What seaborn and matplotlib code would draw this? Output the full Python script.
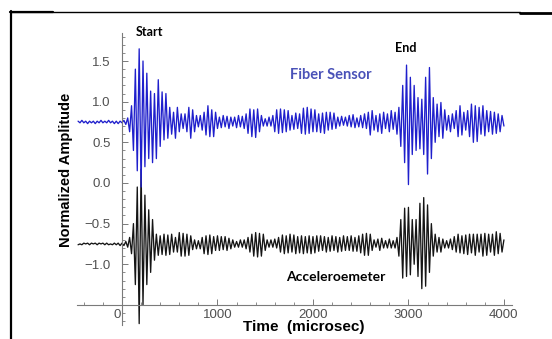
import numpy as np
import pandas as pd
import matplotlib
matplotlib.use("Agg")
import matplotlib.pyplot as plt
from matplotlib.ticker import MultipleLocator, FixedLocator
from matplotlib.lines import Line2D
from matplotlib.transforms import ScaledTranslation
import seaborn as sns

# ---- data ----
t_start = -460          # microsec, first sample
half_period = 20        # microsec between successive extremes
fiber_baseline = 0.75
accel_baseline = -0.75

# half-cycle amplitudes (hundredths of normalized amplitude), sign alternates
fiber_amp = [
    1, 1, 2, 1, 1, 2, 1, 1, 1, 2, 1, 1, 2, 1, 1, 1, 2, 1, 1, 2, 1, 2, 1, 1, 2, 3,
    5, 12, 20, 35, 65,
    60, 90, 80, 75, 55,
    60, 45, 38, 50, 35,
    45, 52, 30, 37, 22,
    35, 20, 18, 15, 12,
    20, 18, 12, 10, 8,
    10, 12, 18, 20, 15,
    12, 8, 6, 8, 10,
    12, 16, 20, 18, 15,
    18, 12, 8, 6, 7,
    8, 6, 7, 8, 6,
    5, 6, 7, 8, 6,
    7, 8, 10, 14, 16,
    18, 15, 19, 16, 12,
    8, 5, 4, 5, 6,
    5, 8, 12, 15, 14,
    16, 13, 15, 12, 14,
    10, 8, 9, 11, 8,
    10, 14, 17, 15, 18,
    14, 16, 12, 15, 12,
    10, 13, 11, 14, 12,
    10, 12, 9, 11, 8,
    6, 5, 7, 4, 6,
    5, 8, 6, 9, 7,
    5, 6, 8, 7, 10,
    8, 12, 16, 14, 10,
    8, 12, 10, 14, 12,
    8, 10, 12, 14, 9,
    12, 15, 18, 30, 45,
    50, 70, 77, 55, 40,
    45, 35, 30, 33, 28,
    40, 55, 64, 67, 45,
    30, 25, 22, 18, 24,
    20, 15, 10, 8, 12,
    10, 8, 14, 18, 20,
    16, 12, 10, 14, 18,
    22, 25, 20, 24, 18,
    15, 20, 17, 14, 12,
    13, 15, 12, 14, 10,
    12, 8, 5,
]

accel_amp = [
    1, 0, 1, 1, 0, 1, 1, 1, 0, 1, 1, 1, 0, 1, 1, 1, 1, 0, 1, 1, 1, 1, 2, 1, 2, 3,
    4, 8, 12, 25, 50,
    70, 98, 92, 75, 60,
    50, 42, 35, 30, 20,
    12, 14, 10, 13, 12,
    14, 11, 13, 12, 10,
    8, 10, 14, 15, 13,
    15, 12, 14, 10, 7,
    5, 6, 4, 6, 8,
    12, 10, 13, 11, 12,
    9, 8, 10, 8, 9,
    7, 9, 8, 7, 6,
    5, 4, 3, 4, 5,
    4, 5, 6, 8, 10,
    12, 15, 14, 16, 13,
    15, 12, 8, 5, 4,
    5, 4, 6, 5, 8,
    10, 11, 12, 10, 11,
    12, 10, 11, 12, 9,
    11, 10, 12, 9, 11,
    10, 12, 9, 11, 10,
    9, 10, 8, 9, 10,
    8, 9, 10, 8, 9,
    10, 8, 9, 10, 8,
    9, 8, 10, 9, 8,
    9, 10, 11, 12, 14,
    13, 14, 12, 8, 5,
    4, 6, 8, 7, 5,
    4, 5, 6, 5, 4,
    5, 8, 15, 30, 42,
    44, 40, 45, 38, 30,
    25, 30, 40, 50, 55,
    57, 52, 48, 35, 25,
    15, 12, 10, 8, 10,
    6, 5, 4, 5, 6,
    7, 9, 10, 12, 11,
    10, 12, 11, 13, 12,
    11, 12, 14, 12, 10,
    12, 15, 13, 14, 12,
    10, 12, 14, 15, 12,
    13, 10, 5,
]

x_ticks = [0, 1000, 2000, 3000, 4000]
y_ticks = [-1.0, -0.5, 0.0, 0.5, 1.0, 1.5]

# ---- build table ----
def build(amp, base, phase, name):
    k = np.arange(len(amp))
    t = t_start + half_period * k
    sign = phase * np.where(k % 2 == 0, 1.0, -1.0)
    v = base + sign * np.asarray(amp, float) / 100.0
    return pd.DataFrame({"time": t, "amp": v, "sensor": name})

df = pd.concat([
    build(accel_amp, accel_baseline, -1.0, "Acceleroemeter"),
    build(fiber_amp, fiber_baseline, 1.0, "Fiber Sensor"),
], ignore_index=True)

sns.set_style("white")
plt.rcParams["font.family"] = ["Liberation Sans", "DejaVu Sans"]

W, H = 552, 339
fig = plt.figure(figsize=(W / 100, H / 100), dpi=100)
ax = fig.add_axes([74.25 / W, (H - 329.3) / H, 444 / W, 300.8 / H])

sns.lineplot(data=df, x="time", y="amp", hue="sensor",
             palette={"Acceleroemeter": "#151515", "Fiber Sensor": "#1f1fcc"},
             hue_order=["Acceleroemeter", "Fiber Sensor"],
             estimator=None, sort=False, linewidth=0.95, legend=False, ax=ax)

ax.set_xlim(-500, 4150)
ax.set_ylim(-1.8, 1.9)
ax.set_xlabel("")
ax.set_ylabel("")

for s in ["top", "right"]:
    ax.spines[s].set_visible(False)
ax.spines["left"].set_position(("data", 0))
ax.spines["bottom"].set_position(("data", -1.5))
ax.spines["left"].set_bounds(-1.75, 1.85)
ax.spines["bottom"].set_bounds(-470, 4080)
for s in ["left", "bottom"]:
    ax.spines[s].set_color("#7a7a7a")
    ax.spines[s].set_linewidth(0.8)

ax.xaxis.set_major_locator(FixedLocator(x_ticks))
ax.xaxis.set_minor_locator(MultipleLocator(200))
ax.yaxis.set_major_locator(FixedLocator(y_ticks))
ax.yaxis.set_minor_locator(FixedLocator(np.round(np.arange(-1.7, 1.85, 0.1), 2)))
ax.set_xticklabels([str(v) for v in x_ticks])
ax.set_yticklabels([f"{v:.1f}".replace("-", "\u2212") for v in y_ticks])
ax.tick_params(axis="both", which="both", bottom=True, left=True, top=False, right=False)
ax.tick_params(axis="both", which="major", direction="in", length=4, width=0.7,
               color="#7a7a7a", labelsize=9.5, labelcolor="#505050")
ax.tick_params(axis="both", which="minor", direction="in", length=2, width=0.6,
               color="#7a7a7a")
ax.tick_params(axis="y", which="major", pad=8)
ax.tick_params(axis="x", which="major", pad=3)

# shift the "0" label left of the vertical axis
fig.canvas.draw()
for lab in ax.get_xticklabels():
    if lab.get_text() == "0":
        lab.set_transform(lab.get_transform() + ScaledTranslation(-0.05, 0, fig.dpi_scale_trans))

# axis titles
fig.text(304 / W, 1 - 327 / H, "Time  (microsec)", ha="center", va="center",
         fontsize=11, fontweight="bold", color="black")
fig.text(66 / W, 1 - 170 / H, "Normalized Amplitude", ha="center", va="center",
         rotation=90, fontsize=10.5, fontweight="bold", color="black")

# annotations
ann_font = ["Lato", "DejaVu Sans"]
fig.text(150 / W, 1 - 32 / H, "Start", ha="center", va="center", fontsize=9,
         fontweight="bold", family=ann_font, color="black")
fig.text(406 / W, 1 - 48 / H, "End", ha="center", va="center", fontsize=9,
         fontweight="bold", family=ann_font, color="black")
fig.text(331 / W, 1 - 75 / H, "Fiber Sensor", ha="center", va="center", fontsize=10.5,
         fontweight="bold", family=ann_font, color="#4a52b8")
fig.text(336 / W, 1 - 277 / H, "Acceleroemeter", ha="center", va="center", fontsize=10,
         fontweight="bold", family=ann_font, color="black")

# page frame lines (cropped screenshot border)
fig.add_artist(Line2D([10 / W, 520 / W], [1 - 11.5 / H, 1 - 11.5 / H],
                      transform=fig.transFigure, color="black", lw=1.0))
fig.add_artist(Line2D([10 / W, 53 / W], [1 - 11.5 / H, 1 - 11.5 / H],
                      transform=fig.transFigure, color="black", lw=1.6))
fig.add_artist(Line2D([520 / W, 552 / W], [1 - 12.5 / H, 1 - 12.5 / H],
                      transform=fig.transFigure, color="black", lw=2.0))
fig.add_artist(Line2D([11 / W, 11 / W], [1 - 11 / H, 0],
                      transform=fig.transFigure, color="black", lw=1.6))

fig.savefig("out.png", dpi=100)
